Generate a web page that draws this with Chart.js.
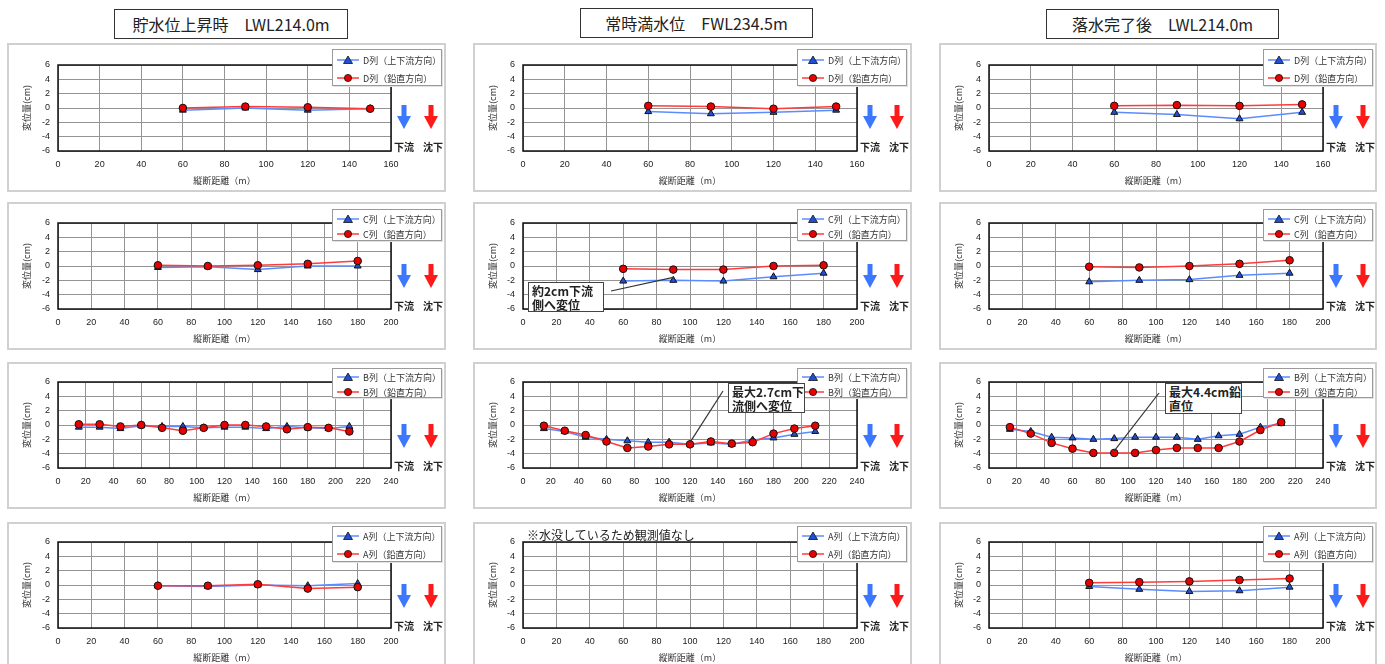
<!DOCTYPE html>
<html><head><meta charset="utf-8">
<script src="https://cdn.jsdelivr.net/npm/chart.js@4.4.0/dist/chart.umd.min.js"></script>
<style>
body{margin:0;background:#fff;width:1385px;height:664px;overflow:hidden;position:relative;font-family:'Noto Sans CJK JP',sans-serif;}
.title{position:absolute;border:1.5px solid #333;box-sizing:border-box;display:flex;align-items:center;justify-content:center;font-size:16px;color:#222;height:30px;white-space:pre;}
.frame{position:absolute;box-sizing:border-box;border:2px solid #d0d0d0;}
canvas{position:absolute;}
.legend{position:absolute;background:#fff;border:1px solid #9a9a9a;box-sizing:border-box;font-size:9px;color:#333;box-shadow:1px 1px 0 #e2e2e2;}
.lrow{position:absolute;left:4px;height:10px;display:flex;align-items:center;white-space:nowrap;}
.lrow svg{margin-right:4px;}
.lbl{position:absolute;font-size:10px;font-weight:bold;color:#222;transform:translate(-50%,-50%);white-space:nowrap;}
.arrow{position:absolute;}
.note{position:absolute;background:#fff;border:1.5px solid #444;box-sizing:border-box;font-size:12px;font-weight:bold;line-height:14px;color:#222;padding:1px 3px;white-space:pre;}
.msg{position:absolute;font-size:12px;line-height:12px;color:#222;white-space:nowrap;}
</style></head>
<body>
<script>
// ---------- data ----------
const columnTitles = ['貯水位上昇時　LWL214.0m', '常時満水位　FWL234.5m', '落水完了後　LWL214.0m'];
const rowNames = ['D', 'C', 'B', 'A'];
const xD = [60, 90, 120, 150];
const xC = [60, 90, 120, 150, 180];
const xB = [15, 30, 45, 60, 75, 90, 105, 120, 135, 150, 165, 180, 195, 210];
const xA = [60, 90, 120, 150, 180];
const xMaxByRow = [160, 200, 240, 200];
const yTicksMin = -6, yTicksMax = 6;

const D_rise_ud = [-0.3, 0.0, -0.3, -0.1];
const D_rise_v  = [0.0, 0.2, 0.1, -0.1];
const D_full_ud = [-0.5, -0.8, -0.6, -0.3];
const D_full_v  = [0.3, 0.2, -0.1, 0.2];
const D_after_ud = [-0.6, -0.9, -1.5, -0.6];
const D_after_v  = [0.3, 0.4, 0.3, 0.5];

const C_rise_ud = [-0.2, -0.1, -0.5, 0.0, 0.0];
const C_rise_v  = [0.1, 0.0, 0.1, 0.3, 0.7];
const C_full_ud = [-2.1, -2.0, -2.1, -1.5, -1.0];
const C_full_v  = [-0.4, -0.5, -0.5, 0.0, 0.1];
const C_after_ud = [-2.2, -2.0, -1.9, -1.3, -1.0];
const C_after_v  = [-0.1, -0.2, 0.0, 0.3, 0.8];

const B_rise_ud = [-0.3, -0.3, -0.5, -0.1, -0.2, -0.2, -0.4, -0.3, -0.3, -0.5, -0.2, -0.4, -0.5, -0.2];
const B_rise_v  = [0.1, 0.1, -0.2, 0.0, -0.4, -0.8, -0.4, 0.0, 0.0, -0.2, -0.6, -0.3, -0.4, -0.9];
const B_full_ud = [-0.5, -0.9, -1.7, -2.0, -2.2, -2.4, -2.4, -2.7, -2.5, -2.7, -2.1, -1.8, -1.3, -0.9];
const B_full_v  = [-0.1, -0.8, -1.4, -2.3, -3.2, -3.0, -2.7, -2.7, -2.3, -2.6, -2.4, -1.2, -0.5, -0.1];
const B_after_ud = [-0.6, -0.9, -1.7, -1.8, -2.0, -1.9, -1.7, -1.7, -1.7, -2.0, -1.5, -1.3, -0.3, 0.2];
const B_after_v  = [-0.3, -1.2, -2.5, -3.3, -3.9, -3.9, -3.9, -3.5, -3.2, -3.2, -3.2, -2.3, -0.7, 0.4];

const A_rise_ud = [-0.1, -0.2, 0.0, -0.1, 0.2];
const A_rise_v  = [-0.1, -0.1, 0.1, -0.5, -0.3];
const A_full_ud = [];
const A_full_v  = [];
const A_after_ud = [-0.2, -0.6, -0.9, -0.8, -0.3];
const A_after_v  = [0.3, 0.4, 0.5, 0.7, 0.9];

// ---------- layout ----------
const COLS = [{x:7, w:439, left:51, pw:333}, {x:473, w:439, left:50, pw:334}, {x:939, w:438, left:50, pw:334}];
const ROWS = [
  {y:43, h:149, top:22, lg:{t:6, h:37, r1:10, r2:28}},
  {y:202, h:148, top:21, lg:{t:7, h:32, r1:9, r2:24}},
  {y:362, h:147, top:20, lg:{t:6, h:30, r1:8, r2:23}},
  {y:522, h:150, top:20, lg:{t:4, h:36, r1:9, r2:27}}
];
const TITLE_POS = [{x:114, w:234, y:9}, {x:580, w:233, y:8}, {x:1046, w:233, y:9}];
const PLOT_H = 86, XAX_H = 42;
const NUM_FONT = "'Liberation Sans','Noto Sans CJK JP',sans-serif";
const JP_FONT = "'Noto Sans CJK JP',sans-serif";
const BLUE_LINE = '#5b8cff', BLUE_PT = '#1f4fd6', RED_LINE = '#ff3b3b', RED_PT = '#e80000';

const panels = [
  {r:0,c:0,xs:xD,ud:D_rise_ud,v:D_rise_v},{r:0,c:1,xs:xD,ud:D_full_ud,v:D_full_v},{r:0,c:2,xs:xD,ud:D_after_ud,v:D_after_v},
  {r:1,c:0,xs:xC,ud:C_rise_ud,v:C_rise_v},{r:1,c:1,xs:xC,ud:C_full_ud,v:C_full_v,
     leader:{x0:138,y0:89,i:1,ser:'ud',dy:-3}},{r:1,c:2,xs:xC,ud:C_after_ud,v:C_after_v},
  {r:2,c:0,xs:xB,ud:B_rise_ud,v:B_rise_v},{r:2,c:1,xs:xB,ud:B_full_ud,v:B_full_v,
     leader:{x0:250,y0:29,i:7,ser:'ud',dy:-2}},{r:2,c:2,xs:xB,ud:B_after_ud,v:B_after_v,
     leader:{x0:220,y0:31,i:5,ser:'v',dy:-2}},
  {r:3,c:0,xs:xA,ud:A_rise_ud,v:A_rise_v},{r:3,c:1,xs:xA,ud:A_full_ud,v:A_full_v},{r:3,c:2,xs:xA,ud:A_after_ud,v:A_after_v}
];
const notes = [
  {r:1,c:1,dx:55,dy:80,w:76,h:30,text:'約2cm下流\n側へ変位'},
  {r:2,c:1,dx:255,dy:21,w:77,h:30,text:'最大2.7cm下\n流側へ変位'},
  {r:2,c:2,dx:226,dy:21,w:77,h:31,text:'最大4.4cm鉛\n直位'}
];

const chartAreaBorder = {
  id:'chartAreaBorder',
  afterDraw(chart){
    const {ctx, chartArea:{left,top,width,height}} = chart;
    ctx.save(); ctx.strokeStyle='#111'; ctx.lineWidth=1.5;
    ctx.strokeRect(left,top,width,height); ctx.restore();
  }
};

function el(tag, cls, style, html){
  const e=document.createElement(tag); if(cls) e.className=cls;
  Object.assign(e.style, style||{}); if(html!==undefined) e.innerHTML=html;
  document.body.appendChild(e); return e;
}

columnTitles.forEach((t,i)=>{
  const p=TITLE_POS[i];
  const d=el('div','title',{left:p.x+'px',top:p.y+'px',width:p.w+'px'}); d.textContent=t;
});

function legendSample(kind){
  const m = kind==='ud'
    ? `<polygon points="11,1 15.5,8.5 6.5,8.5" fill="${BLUE_PT}" stroke="#111" stroke-width="0.8"/>`
    : `<circle cx="11" cy="5" r="3.6" fill="${RED_PT}" stroke="#111" stroke-width="0.8"/>`;
  const col = kind==='ud'?BLUE_LINE:RED_LINE;
  return `<svg width="22" height="10"><line x1="0" y1="5" x2="22" y2="5" stroke="${col}" stroke-width="1.5"/>${m}</svg>`;
}
function arrowSvg(color){
  return `<svg width="14" height="24"><rect x="4.5" y="0" width="5" height="12" fill="${color}"/><polygon points="0,11 14,11 7,24" fill="${color}"/></svg>`;
}

panels.forEach(p=>{
  const row=ROWS[p.r], col=COLS[p.c];
  const fx=col.x, fy=row.y;
  el('div','frame',{left:fx+'px',top:fy+'px',width:col.w+'px',height:row.h+'px'});
  const cv=document.createElement('canvas');
  cv.width=col.w; cv.height=row.h;
  Object.assign(cv.style,{left:fx+'px',top:fy+'px',width:col.w+'px',height:row.h+'px'});
  document.body.appendChild(cv);
  const name=rowNames[p.r];
  const udData=p.ud.map((y,i)=>({x:p.xs[i],y}));
  const vData=p.v.map((y,i)=>({x:p.xs[i],y}));
  const plugins=[chartAreaBorder];
  if(p.leader){
    const L=p.leader;
    plugins.push({id:'leader',afterDraw(chart){
      const xs=chart.scales.x, ys=chart.scales.y;
      const vals = L.ser==='ud'?p.ud:p.v;
      const tx=xs.getPixelForValue(p.xs[L.i]), ty=ys.getPixelForValue(vals[L.i])+L.dy;
      const ctx=chart.ctx; ctx.save(); ctx.strokeStyle='#333'; ctx.lineWidth=1.2;
      ctx.beginPath(); ctx.moveTo(L.x0,L.y0); ctx.lineTo(tx,ty); ctx.stroke(); ctx.restore();
    }});
  }
  new Chart(cv,{
    type:'line',
    data:{datasets:[
      {label:name+'列（上下流方向）',data:udData,borderColor:BLUE_LINE,backgroundColor:BLUE_PT,
       pointStyle:'triangle',pointRadius:4,pointBorderColor:'#111',pointBorderWidth:1,borderWidth:1.5,tension:0,order:1},
      {label:name+'列（鉛直方向）',data:vData,borderColor:RED_LINE,backgroundColor:RED_PT,
       pointStyle:'circle',pointRadius:3.8,pointBorderColor:'#111',pointBorderWidth:1,borderWidth:1.5,tension:0,order:0}
    ]},
    options:{
      responsive:false,animation:false,devicePixelRatio:1,
      layout:{padding:{left:0,top:row.top,right:col.w-col.left-col.pw,bottom:row.h-row.top-PLOT_H-XAX_H}},
      plugins:{legend:{display:false},tooltip:{enabled:false}},
      scales:{
        x:{type:'linear',min:0,max:xMaxByRow[p.r],
           ticks:{stepSize:20,padding:8,color:'#222',autoSkip:false,maxRotation:0,font:{size:9,family:NUM_FONT}},
           grid:{color:'#949494',drawTicks:false,lineWidth:1},border:{display:false},
           title:{display:true,text:'縦断距離（m）',color:'#333',font:{size:9,family:JP_FONT},padding:{top:0,bottom:7}},
           afterFit:s=>{s.height=XAX_H;}},
        y:{type:'linear',min:yTicksMin,max:yTicksMax,
           ticks:{stepSize:2,padding:8,color:'#222',font:{size:9,family:NUM_FONT}},
           grid:{color:'#949494',drawTicks:false,lineWidth:1},border:{display:false},
           title:{display:true,text:'変位量(cm)',color:'#333',font:{size:9,family:JP_FONT},padding:{top:14,bottom:0}},
           afterFit:s=>{s.width=col.left;}}
      }
    },
    plugins
  });
  // legend
  const lg=row.lg, lx=fx+(p.c===0?325:324);
  const L=el('div','legend',{left:lx+'px',top:(fy+lg.t)+'px',width:'110px',height:lg.h+'px'});
  const r1=document.createElement('div'); r1.className='lrow'; r1.style.top=(lg.r1-5)+'px';
  r1.innerHTML=legendSample('ud')+'<span>'+name+'列（上下流方向）</span>'; L.appendChild(r1);
  const r2=document.createElement('div'); r2.className='lrow'; r2.style.top=(lg.r2-5)+'px';
  r2.innerHTML=legendSample('v')+'<span>'+name+'列（鉛直方向）</span>'; L.appendChild(r2);
  // arrows
  el('div','arrow',{left:(fx+397-7)+'px',top:(fy+62)+'px'},arrowSvg('#3b78ff'));
  el('div','arrow',{left:(fx+424-7)+'px',top:(fy+62)+'px'},arrowSvg('#ff1a1a'));
  el('div','lbl',{left:(fx+397)+'px',top:(fy+103)+'px'},'下流');
  el('div','lbl',{left:(fx+426)+'px',top:(fy+103)+'px'},'沈下');
});

notes.forEach(n=>{
  const fx=COLS[n.c].x, fy=ROWS[n.r].y;
  const d=el('div','note',{left:(fx+n.dx)+'px',top:(fy+n.dy)+'px',width:n.w+'px',height:n.h+'px'});
  d.textContent=n.text;
});
el('div','msg',{left:(COLS[1].x+54)+'px',top:(ROWS[3].y+7)+'px'},'※水没しているため観測値なし');
</script>
</body></html>
